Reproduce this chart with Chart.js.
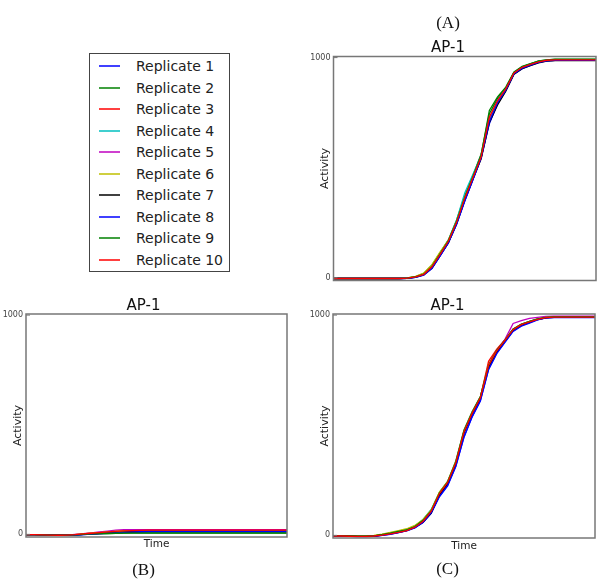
<!DOCTYPE html>
<html>
<head>
<meta charset="utf-8">
<title>AP-1 replicates</title>
<script src="https://cdn.jsdelivr.net/npm/chart.js@4/dist/chart.umd.min.js"></script>
<style>
  body { margin: 0; width: 600px; height: 580px; position: relative; background: #fff; overflow: hidden;
         font-family: "DejaVu Sans", sans-serif; }
  canvas { position: absolute; }
  #cA { left: 300px; top: 0; }
  #cB { left: 0; top: 290px; }
  #cC { left: 300px; top: 290px; }
  #legend { position: absolute; left: 89px; top: 53px; width: 139px; height: 217px; border: 1px solid #444; }
  #legend .row { position: absolute; left: 0; height: 20px; width: 139px; }
  #legend .swatch { position: absolute; left: 9px; top: 9px; width: 21px; height: 2px; opacity: 0.75; }
  #legend .txt { position: absolute; left: 46px; top: 0; line-height: 20px; font-size: 14px; color: #222; white-space: nowrap; }
</style>
</head>
<body>
<div id="legend"></div>
<canvas id="cA" width="300" height="290"></canvas>
<canvas id="cB" width="300" height="290"></canvas>
<canvas id="cC" width="300" height="290"></canvas>
<script>
// --- data ---
const timePoints = [0,1,2,3,4,5,6,7,8,9,10,11,12,13,14,15,16,17,18,19,20,21,22,23,24,25,26,27,28,29,30,31,32];
const yTicks = [0, 1000];
const replicateNames = ['Replicate 1','Replicate 2','Replicate 3','Replicate 4','Replicate 5',
                        'Replicate 6','Replicate 7','Replicate 8','Replicate 9','Replicate 10'];
const lineColors = ['#0000ff','#008000','#ff0000','#00bfbf','#bf00bf','#bfbf00','#000000','#0000ff','#008000','#ff0000'];

// (A)
const activityA = [
  [-3,-3,-3,-3,-3,-3,-3,-3,-3,-2,2,12,42,100,160,245,350,448,545,700,790,850,925,950,965,978,985,988,990,990,990,990,990],
  [-3,-3,-3,-3,-3,-3,-3,-3,-2,0,6,20,58,115,172,262,372,465,562,745,815,862,932,958,972,985,990,993,993,993,993,993,993],
  [-3,-3,-3,-3,-3,-3,-3,-3,-3,-1,4,16,50,108,165,252,360,455,548,718,800,855,930,955,968,980,987,989,989,989,989,989,989],
  [-3,-3,-3,-3,-3,-3,-3,-3,-3,-1,5,18,55,112,170,262,385,470,555,720,805,858,933,957,970,982,988,990,990,990,990,990,990],
  [-3,-3,-3,-3,-3,-3,-3,-3,-3,-2,3,15,48,105,162,248,358,452,552,725,805,856,930,956,969,981,987,989,989,989,989,989,989],
  [-3,-3,-3,-3,-3,-3,-3,-3,-2,0,7,22,60,118,170,255,365,458,550,712,798,853,928,955,968,980,986,988,988,988,988,988,988],
  [-3,-3,-3,-3,-3,-3,-3,-3,-3,-2,3,14,45,102,158,245,352,448,540,705,785,848,925,950,964,976,984,986,986,986,986,986,986],
  [-3,-3,-3,-3,-3,-3,-3,-3,-3,-2,2,13,44,100,158,242,348,445,545,710,795,852,927,952,966,978,985,987,987,987,987,987,987],
  [-3,-3,-3,-3,-3,-3,-3,-3,-3,-1,5,17,52,110,168,256,365,460,558,760,822,866,935,960,973,984,990,992,992,992,992,992,992],
  [-3,-3,-3,-3,-3,-3,-3,-3,-3,-1,4,16,50,107,166,252,362,456,550,730,805,858,930,956,969,981,988,990,990,990,990,990,990]
];

// (B)
const activityB = [
  [-1,-1,-2,-3,-4,-4,-3,-1,1,3,5,7,9,10,11,12,12,12,12,12,12,12,12,12,12,12,12,12,12,12,12,12,12],
  [-1,-1,-2,-3,-4,-3,-2,0,2,3,4,5,6,7,7,7,7,7,7,7,7,7,7,7,7,7,7,7,7,7,7,7,7],
  [-1,-1,-2,-3,-4,-3,-1,2,5,8,11,14,16,17,17,18,18,18,18,18,18,18,18,18,18,18,18,18,18,18,18,18,18],
  [-1,-1,-2,-3,-4,-3,-2,0,3,5,8,11,13,14,14,14,14,14,14,14,14,14,14,14,14,14,14,14,14,14,14,14,14],
  [-1,-1,-2,-3,-4,-3,0,3,7,11,15,19,21,21,21,21,21,21,21,21,21,21,21,21,21,21,21,21,21,21,21,21,21],
  [-1,-1,-2,-3,-4,-3,-1,2,5,8,11,14,16,16,16,16,16,16,16,16,16,16,16,16,16,16,16,16,16,16,16,16,16],
  [-1,-1,-2,-3,-4,-4,-2,0,2,4,6,8,10,12,13,14,14,14,14,14,14,14,14,14,14,14,14,14,14,14,14,14,14],
  [-1,-1,-2,-3,-4,-4,-3,-1,1,3,5,7,9,11,12,13,13,13,13,13,13,13,13,13,13,13,13,13,13,13,13,13,13],
  [-1,-1,-2,-3,-4,-3,-2,0,2,3,4,5,6,6,6,6,6,6,6,6,6,6,6,6,6,6,6,6,6,6,6,6,6],
  [-1,-1,-2,-3,-4,-3,-1,2,5,8,11,14,16,17,18,19,19,19,19,19,19,19,19,19,19,19,19,19,19,19,19,19,19]
];

// (C)
const activityC = [
  [-3,-3,-4,-5,-5,-4,0,5,12,20,34,58,100,178,228,315,448,540,612,755,828,878,928,952,966,980,988,990,990,990,990,990,990],
  [-2,-2,-3,-4,-4,-2,4,11,19,27,42,70,115,195,245,338,478,562,630,775,840,887,936,958,971,983,990,992,992,992,992,992,992],
  [-4,-4,-5,-6,-6,-4,1,7,14,22,37,63,108,188,238,330,470,556,628,790,845,888,937,959,970,982,989,991,991,991,991,991,991],
  [-3,-3,-4,-5,-5,-3,3,10,18,26,42,72,118,192,242,332,472,557,626,772,838,886,935,958,970,982,990,992,992,992,992,992,992],
  [-3,-3,-4,-5,-5,-3,2,8,15,23,38,66,110,190,240,330,468,553,622,768,836,890,962,975,985,990,994,995,995,995,995,995,995],
  [-3,-3,-3,-4,-3,0,6,14,22,30,45,72,115,196,244,334,474,558,627,772,838,885,935,958,970,982,990,992,992,992,992,992,992],
  [-3,-3,-4,-5,-5,-3,2,8,15,23,36,60,102,185,236,326,466,552,622,765,832,882,932,955,968,980,988,990,990,990,990,990,990],
  [-4,-4,-5,-6,-6,-4,0,6,13,21,35,60,104,175,225,312,445,538,610,752,825,876,926,950,964,978,987,989,989,989,989,989,989],
  [-2,-2,-3,-4,-4,-2,3,10,18,25,40,68,112,192,242,332,474,558,628,772,840,886,936,958,971,983,990,992,992,992,992,992,992],
  [-3,-3,-4,-5,-5,-3,1,7,14,22,37,64,110,190,240,330,470,555,625,772,838,885,934,957,969,981,989,991,991,991,991,991,991]
];

// legend box (html, built from the same names/colours)
const legendBox = document.getElementById('legend');
replicateNames.forEach((name, i) => {
  const row = document.createElement('div');
  row.className = 'row';
  row.style.top = Math.round(2 + i * 21.5) + 'px';
  row.innerHTML = '<span class="swatch" style="background:' + lineColors[i] + '"></span><span class="txt">' + name + '</span>';
  legendBox.appendChild(row);
});

// box round the plot area + small inward ticks like matplotlib
const framePlugin = {
  id: 'frame',
  afterDatasetsDraw(chart) {
    const { ctx, chartArea: a } = chart;
    const y = chart.scales.y;
    ctx.save();
    ctx.strokeStyle = '#777';
    ctx.lineWidth = 1.5;
    ctx.strokeRect(a.left, a.top, a.right - a.left, a.bottom - a.top);
    ctx.lineWidth = 1;
    yTicks.forEach(v => {
      const py = y.getPixelForValue(v);
      ctx.beginPath();
      ctx.moveTo(a.left, py);
      ctx.lineTo(a.left + 4, py);
      ctx.stroke();
    });
    ctx.restore();
  }
};

function makePanel(id, series, p) {
  const datasets = series.map((vals, i) => ({
    label: replicateNames[i],
    data: vals,
    borderColor: lineColors[i],
    borderWidth: 1.3,
    pointRadius: 0,
    fill: false,
    tension: 0,
    order: series.length - i
  }));
  return new Chart(document.getElementById(id), {
    type: 'line',
    data: { labels: timePoints, datasets },
    options: {
      responsive: false,
      animation: false,
      layout: { padding: { left: 0, right: p.right, top: 0, bottom: p.bottom } },
      plugins: {
        legend: { display: false },
        tooltip: { enabled: false },
        title: p.title,
        subtitle: p.subtitle
      },
      scales: {
        x: {
          type: 'category',
          ticks: { display: false },
          grid: { display: false },
          border: { display: false },
          title: p.xTitle,
          afterFit: s => { s.height = p.xHeight; }
        },
        y: {
          min: -12,
          max: 1005,
          afterBuildTicks: s => { s.ticks = yTicks.map(v => ({ value: v })); },
          ticks: { color: '#444', font: { family: 'DejaVu Sans', size: 8 }, padding: 3, callback: v => String(v) },
          grid: { display: false, drawTicks: false, tickLength: 0 },
          border: { display: false },
          title: { display: true, text: 'Activity', color: '#222', font: { family: 'DejaVu Sans', size: 11, lineHeight: 1.2 },
                   padding: { top: p.yTitlePad, bottom: 0 } },
          afterFit: s => { s.width = p.yWidth; }
        }
      }
    },
    plugins: [framePlugin]
  });
}

const serif = { family: 'Liberation Serif', size: 17, weight: 'normal', lineHeight: 1 };
const sans15 = { family: 'DejaVu Sans', size: 15, weight: 'normal', lineHeight: 1 };
const timeFont = { family: 'DejaVu Sans', size: 10.5, lineHeight: 1.2 };

makePanel('cA', activityA, {
  right: 4, bottom: 7.5, xHeight: 2, yWidth: 33.5, yTitlePad: 18.4,
  title: { display: true, text: '(A)', color: '#111', font: serif, padding: { top: 15.5, bottom: 0 } },
  subtitle: { display: true, text: 'AP-1', color: '#111', font: sans15, padding: { top: 8, bottom: 1 } },
  xTitle: { display: false }
});

makePanel('cB', activityB, {
  right: 13, bottom: 0, xHeight: 20, yWidth: 26, yTitlePad: 11.7,
  title: { display: true, text: 'AP-1', color: '#111', font: sans15, padding: { top: 9, bottom: 0 } },
  subtitle: { display: true, position: 'bottom', text: '(B)', color: '#111', font: serif, padding: { top: 4.8, bottom: 1.2 } },
  xTitle: { display: true, text: 'Time', color: '#222', font: timeFont, padding: { top: 0, bottom: 6.4 } }
});

makePanel('cC', activityC, {
  right: 5, bottom: 0, xHeight: 20, yWidth: 33, yTitlePad: 18.4,
  title: { display: true, text: 'AP-1', color: '#111', font: sans15, padding: { top: 9, bottom: 0 } },
  subtitle: { display: true, position: 'bottom', text: '(C)', color: '#111', font: serif, padding: { top: 2.8, bottom: 2.2 } },
  xTitle: { display: true, text: 'Time', color: '#222', font: timeFont, padding: { top: 0, bottom: 5.7 } }
});
</script>
</body>
</html>
